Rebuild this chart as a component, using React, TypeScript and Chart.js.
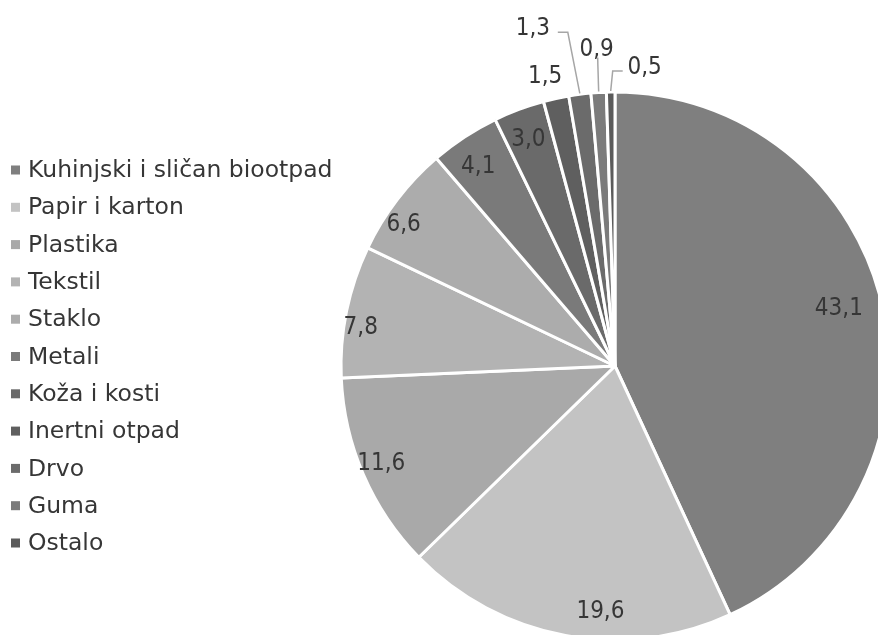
import React, { useEffect, useRef } from "react";
import { Chart, registerables } from "chart.js";

Chart.register(...registerables);

// ---- data ----
const categories = [
  "Kuhinjski i sličan biootpad",
  "Papir i karton",
  "Plastika",
  "Tekstil",
  "Staklo",
  "Metali",
  "Koža i kosti",
  "Inertni otpad",
  "Drvo",
  "Guma",
  "Ostalo",
];
const shares = [43.1, 19.6, 11.6, 7.8, 6.6, 4.1, 3.0, 1.5, 1.3, 0.9, 0.5];
const valueLabels = ["43,1", "19,6", "11,6", "7,8", "6,6", "4,1", "3,0", "1,5", "1,3", "0,9", "0,5"];
const sliceColors = [
  "#7f7f7f",
  "#c3c3c3",
  "#a9a9a9",
  "#b3b3b3",
  "#acacac",
  "#7a7a7a",
  "#6a6a6a",
  "#5f5f5f",
  "#6b6b6b",
  "#7b7b7b",
  "#5b5b5b",
];

// ---- styling / label placement ----
const TEXT_COLOR = "#363636";
const LABEL_FONT = `24px "DejaVu Sans Condensed", "DejaVu Sans", sans-serif`;
const LEGEND_FONT = `23.5px "DejaVu Sans", sans-serif`;
const LABEL_Y_NUDGE = 3;
// inside labels: [angle shift in degrees, radius fraction]
const insidePlacement: [number, number][] = [
  [-2.6, 0.846],
  [-7, 0.886],
  [1.4, 0.92],
  [-2.3, 0.94],
  [-3.1, 0.934],
  [-0.8, 0.89],
  [-0.2, 0.894],
];
// outside labels: offset of label centre from the slice's outer mid point, leader points relative to label centre
const outsidePlacement = [
  { dx: -11, dy: -25, leader: [] as [number, number][] },
  { dx: -47, dy: -69, leader: [[35, 7], [25, 7]] as [number, number][] },
  { dx: -2, dy: -46, leader: [[1, 11]] as [number, number][] },
  { dx: 34, dy: -27, leader: [[-32, 6], [-22, 6]] as [number, number][] },
];

const legendLayout = { x: 11, firstY: 170, step: 37.3, box: 9, textX: 28 };

const valueLabelPlugin = {
  id: "valueLabelPlugin",
  afterDatasetsDraw(chart: any) {
    const ctx = chart.ctx as CanvasRenderingContext2D;
    const meta = chart.getDatasetMeta(0);
    ctx.save();
    ctx.font = LABEL_FONT;
    ctx.fillStyle = TEXT_COLOR;
    ctx.textAlign = "center";
    ctx.textBaseline = "middle";
    meta.data.forEach((arc: any, i: number) => {
      const { x, y, startAngle, endAngle, outerRadius } = arc.getProps(
        ["x", "y", "startAngle", "endAngle", "outerRadius"],
        true
      );
      const mid = (startAngle + endAngle) / 2;
      if (i < insidePlacement.length) {
        const [shift, frac] = insidePlacement[i];
        const a = mid + (shift * Math.PI) / 180;
        const r = outerRadius * frac;
        ctx.fillText(valueLabels[i], x + r * Math.cos(a), y + r * Math.sin(a) + LABEL_Y_NUDGE);
      } else {
        const p = outsidePlacement[i - insidePlacement.length];
        const ax = x + outerRadius * Math.cos(mid);
        const ay = y + outerRadius * Math.sin(mid);
        const lx = ax + p.dx;
        const ly = ay + p.dy;
        if (p.leader.length) {
          ctx.save();
          ctx.strokeStyle = "#a6a6a6";
          ctx.lineWidth = 1.5;
          ctx.beginPath();
          ctx.moveTo(ax, ay - 1);
          p.leader.forEach(([px, py]) => ctx.lineTo(lx + px, ly + py));
          ctx.stroke();
          ctx.restore();
        }
        ctx.fillText(valueLabels[i], lx, ly + LABEL_Y_NUDGE);
      }
    });
    ctx.restore();
  },
};

const legendPlugin = {
  id: "sideLegend",
  afterDraw(chart: any) {
    const ctx = chart.ctx as CanvasRenderingContext2D;
    const labels: string[] = chart.data.labels;
    const colors: string[] = chart.data.datasets[0].backgroundColor;
    ctx.save();
    ctx.font = LEGEND_FONT;
    ctx.textAlign = "left";
    ctx.textBaseline = "middle";
    labels.forEach((lab, i) => {
      const cy = legendLayout.firstY + i * legendLayout.step;
      ctx.fillStyle = colors[i];
      ctx.fillRect(legendLayout.x, cy - legendLayout.box / 2, legendLayout.box, legendLayout.box);
      ctx.fillStyle = TEXT_COLOR;
      ctx.fillText(lab, legendLayout.textX, cy + 1);
    });
    ctx.restore();
  },
};

export default function App() {
  const canvasRef = useRef<HTMLCanvasElement | null>(null);

  useEffect(() => {
    if (!canvasRef.current) return;
    const chart = new Chart(canvasRef.current, {
      type: "pie",
      data: {
        labels: categories,
        datasets: [
          {
            data: shares,
            backgroundColor: sliceColors,
            borderColor: "#ffffff",
            borderWidth: 3,
            radius: 274,
            clip: false,
          } as any,
        ],
      },
      options: {
        responsive: false,
        animation: false,
        layout: { padding: { left: 352, right: 0, top: 97, bottom: 0 } },
        plugins: {
          legend: { display: false },
          tooltip: { enabled: false },
        },
      },
      plugins: [valueLabelPlugin, legendPlugin],
    });
    return () => chart.destroy();
  }, []);

  return (
    <div
      style={{
        position: "fixed",
        left: 0,
        top: 0,
        width: 878,
        height: 635,
        overflow: "hidden",
        background: "#ffffff",
      }}
    >
      <canvas ref={canvasRef} width={878} height={635} style={{ display: "block" }} />
    </div>
  );
}
